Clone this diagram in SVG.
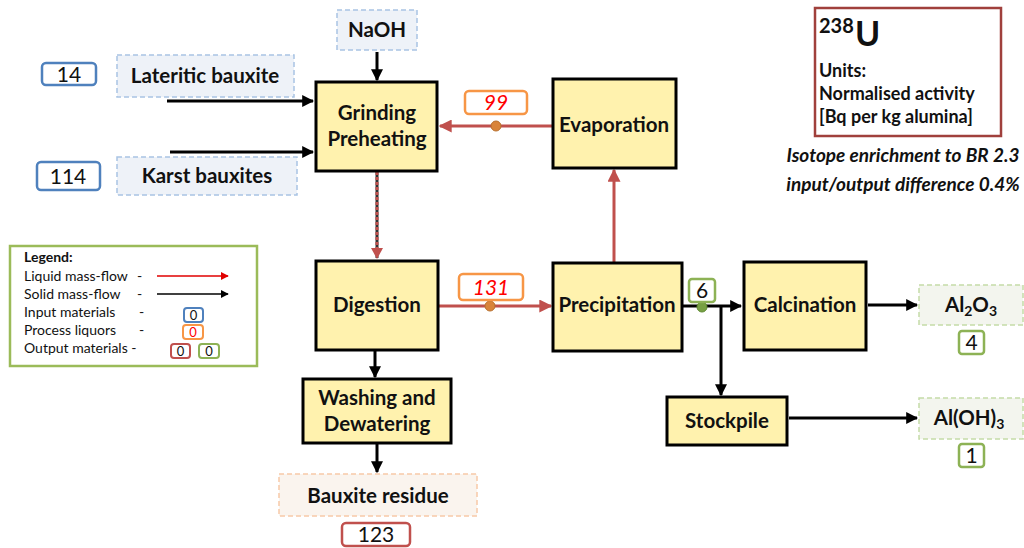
<svg xmlns="http://www.w3.org/2000/svg" width="1024" height="548" viewBox="0 0 1024 548">
<defs>
<marker id="ab" viewBox="0 0 10 10" refX="9" refY="5" markerWidth="12" markerHeight="12" markerUnits="userSpaceOnUse" orient="auto"><path d="M0,0 L10,5 L0,10 z" fill="#000"/></marker>
<marker id="ar" viewBox="0 0 10 10" refX="9" refY="5" markerWidth="13" markerHeight="13" markerUnits="userSpaceOnUse" orient="auto"><path d="M0,0 L10,5 L0,10 z" fill="#C0504D"/></marker>
<marker id="ab2" viewBox="0 0 10 10" refX="9" refY="5" markerWidth="8" markerHeight="8" markerUnits="userSpaceOnUse" orient="auto"><path d="M0,0 L10,5 L0,10 z" fill="#000"/></marker>
<marker id="ar2" viewBox="0 0 10 10" refX="9" refY="5" markerWidth="8" markerHeight="8" markerUnits="userSpaceOnUse" orient="auto"><path d="M0,0 L10,5 L0,10 z" fill="#E00000"/></marker>
</defs>
<style>
text{font-family:Lato,"Open Sans","Liberation Sans",sans-serif;fill:#111}
.node{fill:#FFF2AE;stroke:#000;stroke-width:3}
.nl{font-size:20.5px;font-weight:bold;text-anchor:middle}
.inp{fill:#EEF2F8;stroke:#A9C4E4;stroke-width:1.5;stroke-dasharray:5,3}
.outg{fill:#F3F5EE;stroke:#C5DBA8;stroke-width:1.5;stroke-dasharray:5,3}
.outr{fill:#FAF4EE;stroke:#F8C9A8;stroke-width:1.5;stroke-dasharray:5,3}
.num{font-size:21px;text-anchor:middle}
.bl{fill:#fff;stroke:#4F81BD;stroke-width:2.5}
.bo{fill:#fff;stroke:#F79646;stroke-width:2.5}
.bg{fill:#fff;stroke:#8DB255;stroke-width:2.5}
.br{fill:#fff;stroke:#C0504D;stroke-width:2.5}
.sb{stroke:#000;stroke-width:3;fill:none}
.sr{stroke:#C0504D;stroke-width:3;fill:none}
.it{font-size:19px;font-weight:bold;font-style:italic;text-anchor:middle}
.un{font-size:18px;font-weight:bold}
</style>

<g id="connectors">
<line class="sb" x1="167" y1="101" x2="313" y2="101" marker-end="url(#ab)"/>
<line class="sb" x1="170" y1="152" x2="313" y2="152" marker-end="url(#ab)"/>
<line class="sb" x1="377" y1="52" x2="377" y2="80" marker-end="url(#ab)"/>
<line class="sr" x1="553" y1="126" x2="440" y2="126" marker-end="url(#ar)"/>
<line class="sr" x1="614" y1="262" x2="614" y2="170" marker-end="url(#ar)"/>
<line x1="377" y1="172" x2="377" y2="258" stroke="#333" stroke-width="3"/>
<line x1="377" y1="172" x2="377" y2="248" stroke="#C0504D" stroke-width="3" stroke-dasharray="3,2"/>
<path d="M371,248 L383,248 L377,259 z" fill="#C0504D"/>
<line class="sr" x1="439" y1="306" x2="551" y2="306" marker-end="url(#ar)"/>
<line class="sb" x1="683" y1="306" x2="741" y2="306" marker-end="url(#ab)"/>
<line class="sb" x1="721" y1="306" x2="721" y2="395" marker-end="url(#ab)"/>
<line class="sb" x1="868" y1="305" x2="917" y2="305" marker-end="url(#ab)"/>
<line class="sb" x1="789" y1="418" x2="917" y2="418" marker-end="url(#ab)"/>
<line class="sb" x1="375" y1="351" x2="375" y2="377" marker-end="url(#ab)"/>
<line class="sb" x1="377" y1="444" x2="377" y2="472" marker-end="url(#ab)"/>
<circle cx="496" cy="126" r="5" fill="#D9843A" stroke="#B8702E" stroke-width="1"/>
<circle cx="490" cy="306" r="5" fill="#D9843A" stroke="#B8702E" stroke-width="1"/>
<circle cx="702" cy="307" r="5" fill="#77A043" stroke="#5E8A30" stroke-width="1"/>
</g>

<g id="lateritic">
<rect class="inp" x="117" y="55" width="177" height="42"/>
<text class="nl" x="205" y="83">Lateritic bauxite</text>
<rect class="bl" x="42" y="63" width="54" height="22" rx="4"/>
<text class="num" x="69" y="82">14</text>
</g>
<g id="karst">
<rect class="inp" x="117" y="157" width="180" height="38"/>
<text class="nl" x="207" y="183">Karst bauxites</text>
<rect class="bl" x="37" y="162" width="63" height="28" rx="4"/>
<text class="num" x="68" y="184">114</text>
</g>
<g id="naoh">
<rect class="inp" x="337" y="10" width="80" height="40"/>
<text class="nl" x="377" y="37">NaOH</text>
</g>
<g id="grinding">
<rect class="node" x="316" y="82" width="121" height="89"/>
<text class="nl" x="377" y="120">Grinding</text>
<text class="nl" x="377" y="146">Preheating</text>
</g>
<g id="evaporation">
<rect class="node" x="553" y="79" width="123" height="89"/>
<text class="nl" x="614" y="132">Evaporation</text>
</g>
<g id="label99">
<rect class="bo" x="465" y="91" width="62" height="23" rx="4"/>
<text class="num" x="496" y="110" font-style="italic" style="fill:#FF0000">99</text>
</g>
<g id="digestion">
<rect class="node" x="316" y="261" width="122" height="89"/>
<text class="nl" x="377" y="312">Digestion</text>
</g>
<g id="label131">
<rect class="bo" x="459" y="274" width="64" height="26" rx="4"/>
<text class="num" x="491" y="295" font-style="italic" style="fill:#FF0000">131</text>
</g>
<g id="precipitation">
<rect class="node" x="553" y="263" width="129" height="88"/>
<text class="nl" x="617" y="312">Precipitation</text>
</g>
<g id="label6">
<rect class="bg" x="689" y="279" width="26" height="23" rx="3"/>
<text class="num" x="702" y="298">6</text>
</g>
<g id="calcination">
<rect class="node" x="744" y="262" width="122" height="88"/>
<text class="nl" x="805" y="312">Calcination</text>
</g>
<g id="al2o3">
<rect class="outg" x="919" y="285" width="104" height="40"/>
<text class="nl" x="971" y="312">Al<tspan font-size="14" dy="4">2</tspan><tspan dy="-4">O</tspan><tspan font-size="14" dy="4">3</tspan></text>
<rect class="bg" x="959" y="331" width="25" height="23" rx="3"/>
<text class="num" x="971.5" y="350">4</text>
</g>
<g id="stockpile">
<rect class="node" x="667" y="397" width="120" height="48"/>
<text class="nl" x="727" y="428">Stockpile</text>
</g>
<g id="aloh3">
<rect class="outg" x="919" y="398" width="104" height="41"/>
<text class="nl" x="969" y="425">Al(OH)<tspan font-size="14" dy="4">3</tspan></text>
<rect class="bg" x="959" y="444" width="25" height="23" rx="3"/>
<text class="num" x="971.5" y="463">1</text>
</g>
<g id="washing">
<rect class="node" x="303" y="379" width="148" height="64"/>
<text class="nl" x="377" y="405">Washing and</text>
<text class="nl" x="377" y="431">Dewatering</text>
</g>
<g id="residue">
<rect class="outr" x="279" y="474" width="198" height="42"/>
<text class="nl" x="378" y="503">Bauxite residue</text>
<rect class="br" x="342" y="523" width="68" height="23" rx="4"/>
<text class="num" x="376" y="542">123</text>
</g>

<g id="legend">
<rect x="10" y="246" width="247" height="120" fill="#fff" stroke="#9BBB59" stroke-width="2.5"/>
<text x="24" y="262" font-size="14" font-weight="bold">Legend:</text>
<text x="24" y="281" font-size="14">Liquid mass-flow</text>
<text x="137" y="281" font-size="14">-</text>
<text x="24" y="299" font-size="14">Solid mass-flow</text>
<text x="137" y="299" font-size="14">-</text>
<text x="24" y="317" font-size="14">Input materials</text>
<text x="139" y="317" font-size="14">-</text>
<text x="24" y="335" font-size="14">Process liquors</text>
<text x="139" y="335" font-size="14">-</text>
<text x="24" y="353" font-size="14">Output materials -</text>
<line x1="157" y1="276" x2="228" y2="276" stroke="#E00000" stroke-width="1.5" marker-end="url(#ar2)"/>
<line x1="157" y1="294" x2="228" y2="294" stroke="#000" stroke-width="1.5" marker-end="url(#ab2)"/>
<rect x="184" y="308" width="19" height="14" rx="3" fill="#fff" stroke="#4F81BD" stroke-width="2"/>
<text x="193.5" y="320" font-size="13" text-anchor="middle">0</text>
<rect x="183" y="325" width="20" height="14" rx="3" fill="#fff" stroke="#F79646" stroke-width="2"/>
<text x="193" y="337" font-size="13" text-anchor="middle" style="fill:#FF0000">0</text>
<rect x="171" y="344" width="19" height="14" rx="3" fill="#fff" stroke="#C0504D" stroke-width="2"/>
<text x="180.5" y="356" font-size="13" text-anchor="middle">0</text>
<rect x="199" y="344" width="20" height="14" rx="3" fill="#fff" stroke="#8DB255" stroke-width="2"/>
<text x="209" y="356" font-size="13" text-anchor="middle">0</text>
</g>

<g id="info">
<rect x="815" y="8" width="186" height="128" fill="#fff" stroke="#A0403C" stroke-width="2.5"/>
<text x="819" y="33" font-size="20" font-weight="bold">238</text>
<text x="855" y="46" font-size="34" font-weight="bold">U</text>
<text class="un" x="819" y="77">Units:</text>
<text class="un" x="819" y="100">Normalised activity</text>
<text class="un" x="819" y="123">[Bq per kg alumina]</text>
<text class="it" x="903" y="162">Isotope enrichment to BR 2.3</text>
<text class="it" x="903" y="191">input/output difference 0.4%</text>
</g>
</svg>
